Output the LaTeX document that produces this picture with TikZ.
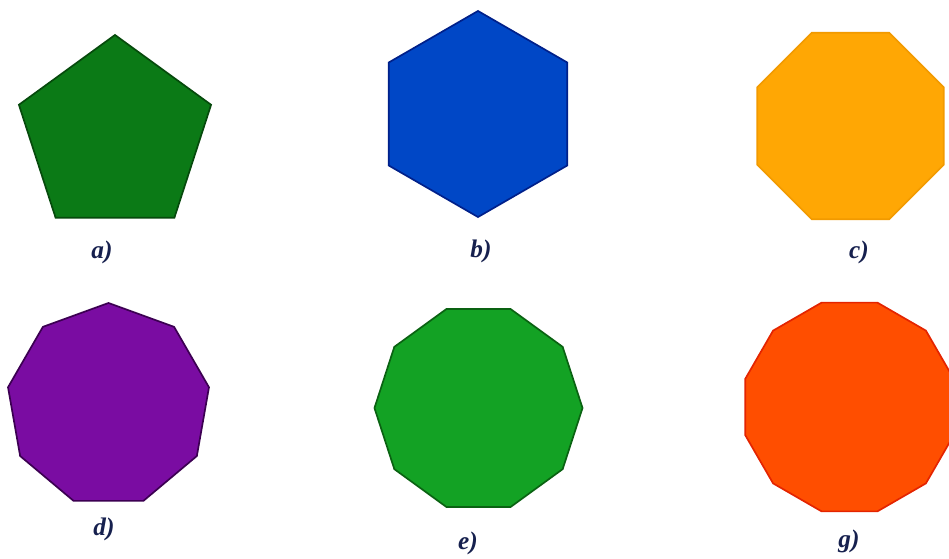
\documentclass[tikz,border=0pt]{standalone}
\usepackage{fontspec}
\setmainfont{Liberation Serif}
\usetikzlibrary{shapes.geometric}

\definecolor{pentfill}{HTML}{0B7A16}
\definecolor{pentline}{HTML}{064A0C}
\definecolor{hexfill}{HTML}{0047C6}
\definecolor{hexline}{HTML}{00208A}
\definecolor{octfill}{HTML}{FFA704}
\definecolor{octline}{HTML}{F29A00}
\definecolor{nonfill}{HTML}{7A0CA2}
\definecolor{nonline}{HTML}{3C0052}
\definecolor{decfill}{HTML}{13A224}
\definecolor{decline}{HTML}{0A6212}
\definecolor{dodfill}{HTML}{FF4E00}
\definecolor{dodline}{HTML}{E42400}
\definecolor{labtext}{HTML}{16204E}

\tikzset{
  poly/.style={regular polygon, draw, inner sep=0pt, outer sep=0pt, line width=1.2pt},
  tag/.style={text=labtext, font=\fontsize{18}{20}\selectfont\bfseries\itshape}
}

\begin{document}
\begin{tikzpicture}[x=0.025cm, y=-0.025cm]
    \useasboundingbox (0,0) rectangle (949,559);

    \node (p5) [poly, regular polygon sides=5, minimum size=5.05cm, fill=pentfill, draw=pentline] at (115, 136) {};
    \node (p6) [poly, regular polygon sides=6, regular polygon rotate=30, minimum size=5.15cm, fill=hexfill, draw=hexline] at (478, 114) {};
    \node (p8) [poly, regular polygon sides=8, minimum size=5.05cm, fill=octfill, draw=octline] at (850.5, 126) {};
    \node (p9) [poly, regular polygon sides=9, minimum size=5.1cm, fill=nonfill, draw=nonline] at (108.5, 405) {};
    \node (p10) [poly, regular polygon sides=10, minimum size=5.2cm, fill=decfill, draw=decline] at (478.5, 408) {};
    \node (p12) [poly, regular polygon sides=12, minimum size=5.4cm, fill=dodfill, draw=dodline] at (849.5, 407) {};

    \node (la) [tag] at (102, 252) {a)};
    \node (lb) [tag] at (481, 251) {b)};
    \node (lc) [tag] at (859, 252) {c)};
    \node (ld) [tag] at (104, 529) {d)};
    \node (le) [tag] at (468, 543) {e)};
    \node (lg) [tag] at (849, 541) {g)};
\end{tikzpicture}
\end{document}
